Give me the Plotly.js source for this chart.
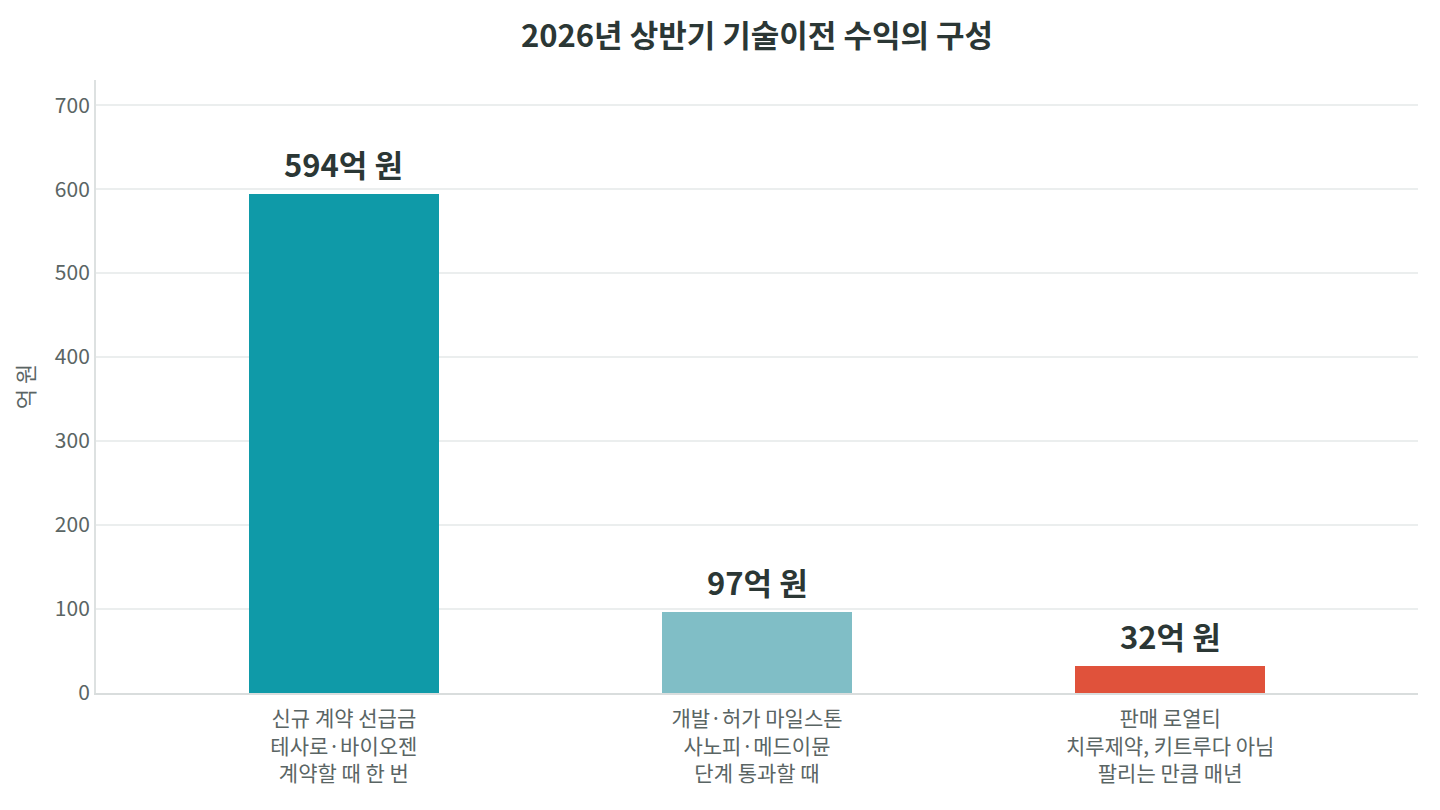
<!DOCTYPE html>
<html>
<head>
<meta charset="utf-8">
<script src="https://cdn.plot.ly/plotly-3.0.1.min.js"></script>
<style>
  html, body { margin: 0; padding: 0; background: #fff; }
  #chart { width: 1440px; height: 810px; }
</style>
</head>
<body>
<div id="chart"></div>
<script>
const categories = [
  "신규 계약 선급금<br>테사로·바이오젠<br>계약할 때 한 번",
  "개발·허가 마일스톤<br>사노피·메드이뮨<br>단계 통과할 때",
  "판매 로열티<br>치루제약, 키트루다 아님<br>팔리는 만큼 매년"
];
const values = [594, 97, 32];
const valueLabels = ["594억 원", "97억 원", "32억 원"];
const barColors = ["#0f9aa8", "#80bec6", "#e0523b"];
const yTicks = [0, 100, 200, 300, 400, 500, 600, 700];

const FONT = "'Noto Sans CJK KR', 'Noto Sans', sans-serif";
const DARK = "#2b3735";
const GREY = "#5a6564";

const trace = {
  type: "bar",
  x: [0, 1, 2],
  y: values,
  width: 0.46,
  marker: { color: barColors },
  hoverinfo: "none",
};

// value labels above each bar
const annotations = values.map((v, i) => ({
  x: i,
  y: v,
  text: "<b>" + valueLabels[i] + "</b>",
  showarrow: false,
  yanchor: "bottom",
  yshift: 6,
  font: { family: FONT, size: 31, color: DARK },
}));

Plotly.newPlot("chart", [trace], {
  width: 1440,
  height: 810,
  paper_bgcolor: "#ffffff",
  plot_bgcolor: "#ffffff",
  margin: { l: 96, r: 22, t: 80, b: 117 },
  showlegend: false,
  bargap: 0,
  font: { family: FONT, color: GREY },
  title: {
    text: "<b>2026년 상반기 기술이전 수익의 구성</b>",
    xref: "paper",
    x: 0.5,
    xanchor: "center",
    y: 0.955,
    yanchor: "middle",
    font: { family: FONT, size: 31, color: DARK },
  },
  xaxis: {
    range: [-0.6, 2.6],
    tickvals: [0, 1, 2],
    ticktext: categories,
    tickfont: { family: FONT, size: 21, color: GREY },
    ticklabelstandoff: 6,
    showgrid: false,
    showline: true,
    linecolor: "#d9dddd",
    linewidth: 2,
    zeroline: false,
    ticks: "",
    fixedrange: true,
  },
  yaxis: {
    range: [0, 730],
    tickvals: yTicks,
    tickfont: { family: FONT, size: 21, color: GREY },
    showgrid: true,
    gridcolor: "#ebeeee",
    gridwidth: 2,
    showline: true,
    linecolor: "#dde1e1",
    linewidth: 2,
    zeroline: false,
    ticks: "",
    title: {
      text: "억 원",
      standoff: 14,
      font: { family: FONT, size: 22, color: GREY },
    },
    fixedrange: true,
  },
  annotations: annotations,
}, { displayModeBar: false, staticPlot: true });
</script>
</body>
</html>
